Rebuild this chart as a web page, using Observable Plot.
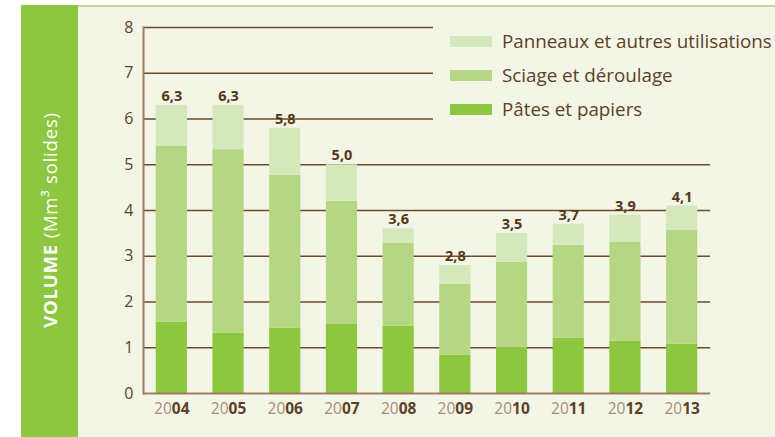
<!DOCTYPE html>
<html><head><meta charset="utf-8">
<script src="https://cdn.jsdelivr.net/npm/d3@7"></script>
<script src="https://cdn.jsdelivr.net/npm/@observablehq/plot@0.6"></script>
<style>
body{margin:0;background:#fff;font-family:"Open Sans",sans-serif;}
#wrap{position:relative;width:775px;height:437px;overflow:hidden;}
#band{position:absolute;left:21px;top:5px;width:57px;height:432px;background:#8DC63F;}
#panel{position:absolute;left:78px;top:5px;width:697px;height:432px;background:#F3F6E6;border-top:2px solid #BCDB92;box-sizing:border-box;}
#chart{position:absolute;left:0;top:0;}
#legend{position:absolute;left:433px;top:22px;width:342px;height:100px;background:#F3F6E6;}
.row{position:absolute;left:0;height:34px;width:342px;}
.sw{position:absolute;left:17px;top:12px;width:42px;height:11px;}
.lt{position:absolute;left:69px;top:0;line-height:34px;font-size:18.8px;color:#5E4027;white-space:nowrap;}
</style></head>
<body>
<div id="wrap">
  <div id="band"></div>
  <div id="panel"></div>
  <div id="chart"></div>
  <div id="legend"></div>
</div>
<script>
const years = ["2004","2005","2006","2007","2008","2009","2010","2011","2012","2013"];
const seriesNames = ["Pâtes et papiers","Sciage et déroulage","Panneaux et autres utilisations"];
const seriesColors = ["#8DC63F","#B5D784","#D5E8BC"];
const pates = [1.56,1.32,1.43,1.51,1.47,0.84,0.99,1.21,1.14,1.08];
const sciage = [3.84,4.01,3.34,2.69,1.81,1.55,1.88,2.03,2.16,2.49];
const panneaux = [0.90,0.97,1.03,0.80,0.32,0.41,0.63,0.46,0.60,0.53];
const totals = [6.3,6.3,5.8,5.0,3.6,2.8,3.5,3.7,3.9,4.1];
const yTicks = [0,1,2,3,4,5,6,7,8];
const yLabelBold = "VOLUME";
const yLabelRest = " (Mm³ solides)";

const seriesValues = [pates, sciage, panneaux];
const rows = [];
years.forEach((yr, i) => {
  seriesNames.forEach((s, k) => rows.push({year: yr, series: s, value: seriesValues[k][i]}));
});

const brown = "#5E4027";
const grid = "#6E4A28";
const axisLine = "#9C7E62";

const chart = Plot.plot({
  width: 775,
  height: 437,
  marginLeft: 143,
  marginRight: 65,
  marginTop: 27,
  marginBottom: 44,
  style: {background: "transparent", fontFamily: "'Open Sans', sans-serif", color: brown, overflow: "visible"},
  x: {domain: years, paddingInner: 0.45, paddingOuter: 0.225, round: false, axis: null},
  y: {domain: [0, 8], axis: null},
  color: {domain: seriesNames, range: seriesColors},
  marks: [
    Plot.ruleY(yTicks.filter(d => d > 0), {stroke: grid, strokeWidth: 1.3}),
    Plot.barY(rows, {x: "year", y: "value", fill: "series", order: seriesNames}),
    Plot.ruleY([0], {stroke: axisLine, strokeWidth: 2}),
    Plot.frame({anchor: "left", stroke: axisLine, strokeWidth: 2}),
    Plot.axisY({ticks: yTicks, tickSize: 0, tickPadding: 10, fontSize: 16, fill: brown, label: null}),
    Plot.text(years, {x: d => d, y: (d, i) => totals[i], text: (d, i) => totals[i].toFixed(1).replace(".", ","),
      dy: -9, fontSize: 14.5, fontWeight: "bold", fill: "#553618"}),
    Plot.text(years, {x: d => d, text: d => d.slice(0, 2), frameAnchor: "bottom", dy: 20, textAnchor: "end",
      fontSize: 15.5, fill: "#A68D77"}),
    Plot.text(years, {x: d => d, text: d => d.slice(2), frameAnchor: "bottom", dy: 20, textAnchor: "start",
      fontSize: 15.5, fontWeight: "bold", fill: brown})
  ]
});

// rotated y label
const svg = d3.select(chart);
const t = svg.append("text")
  .attr("transform", "translate(49,220) rotate(-90)")
  .attr("text-anchor", "middle")
  .attr("dominant-baseline", "central")
  .attr("fill", "#ffffff")
  .attr("font-size", 18.5)
  .attr("letter-spacing", 0.8);
t.append("tspan").attr("font-weight", "bold").text(yLabelBold);
t.append("tspan").text(yLabelRest);

document.getElementById("chart").appendChild(chart);

// legend (top to bottom: reverse stacking order)
const legend = d3.select("#legend");
const order = [2, 1, 0];
order.forEach((k, r) => {
  const row = legend.append("div").attr("class", "row").style("top", (r * 34 + 2) + "px");
  row.append("div").attr("class", "sw").style("background", seriesColors[k]);
  row.append("div").attr("class", "lt").text(seriesNames[k]);
});
</script>
</body></html>
